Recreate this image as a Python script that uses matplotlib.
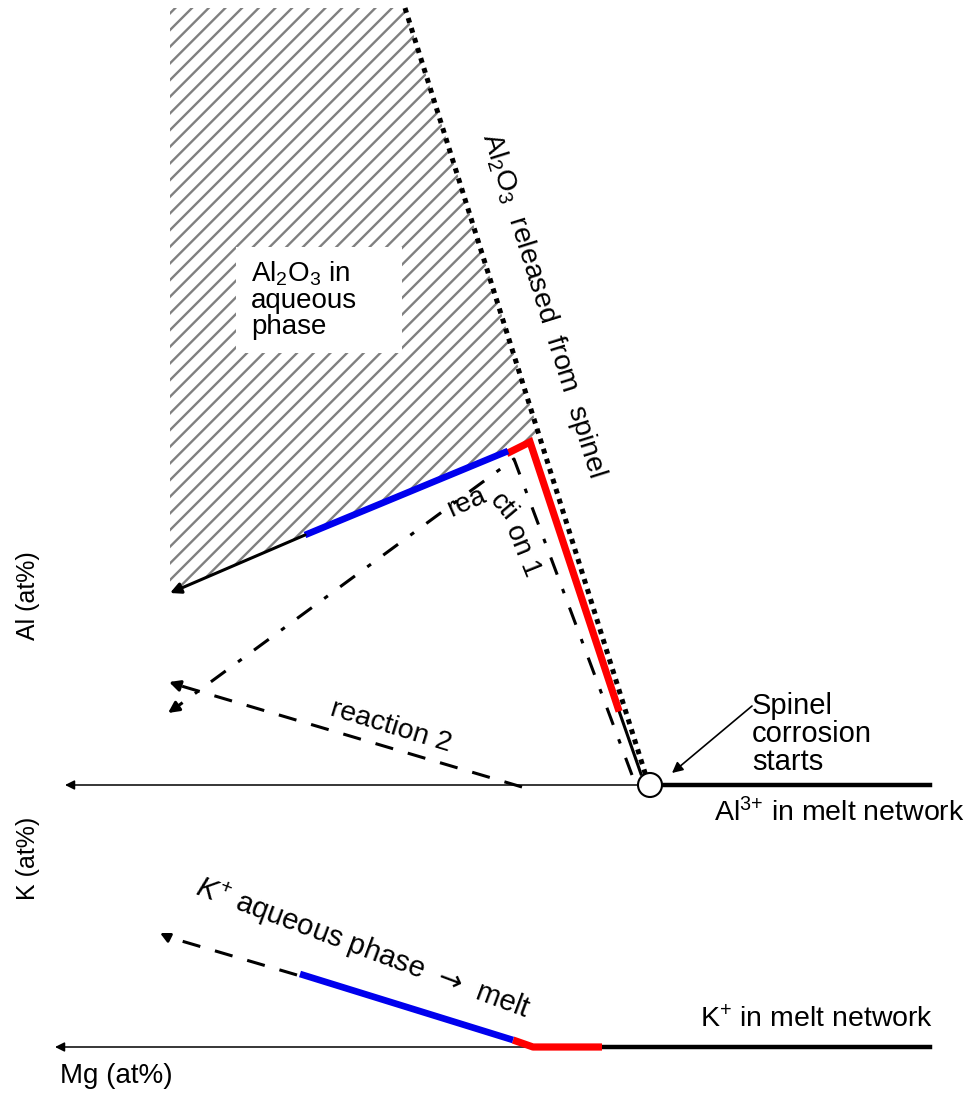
import matplotlib
matplotlib.use("Agg")
import matplotlib.pyplot as plt
from matplotlib.patches import Polygon, Circle, Rectangle

plt.rcParams['font.family'] = ['Liberation Sans', 'DejaVu Sans']
plt.rcParams['mathtext.fontset'] = 'custom'
plt.rcParams['mathtext.rm'] = 'Liberation Sans'
plt.rcParams['mathtext.it'] = 'Liberation Sans:italic'
plt.rcParams['mathtext.sf'] = 'DejaVu Sans'
plt.rcParams['mathtext.default'] = 'regular'
plt.rcParams['hatch.linewidth'] = 1.7

# ---- schematic data (image units: x to the right, y downward) ----
hatch_x = [170, 405, 538, 530, 508, 305, 170]
hatch_y = [8, 8, 430, 442, 450, 535, 592]

spinel_dot_x = [405, 646]
spinel_dot_y = [8, 776]

al_red_x = [510, 530, 618]
al_red_y = [452, 442, 708]
al_black_tail_x = [618, 641]
al_black_tail_y = [708, 774]
al_blue_x = [305, 508]
al_blue_y = [535, 451]
al_arrow_from = (305, 535)
al_arrow_to = (170, 593)

reaction1_x = [632, 514, 178]
reaction1_y = [775, 459, 706]
reaction1_tip = (168, 713)
reaction2_x = [522, 178]
reaction2_y = [787, 685]
reaction2_tip = (169, 682)

al_axis_y = 785
al_axis_x = [930, 65]
al_axis_thick_x = [660, 930]
spinel_start = (650, 785)

k_axis_y = 1047
k_axis_x = [930, 55]
k_black_thick_x = [602, 930]
k_red_x = [513, 533, 602]
k_red_y = [1040, 1047, 1047]
k_blue_x = [300, 513]
k_blue_y = [974, 1040]
k_dash_x = [297, 168]
k_dash_y = [975, 937]
k_tip = (160, 933)

W, H = 970, 1093
fig = plt.figure(figsize=(W / 100, H / 100), dpi=100)
ax = fig.add_axes([0, 0, 1, 1])
ax.set_xlim(0, W)
ax.set_ylim(H, 0)
ax.axis('off')

# hatched region
ax.add_patch(Polygon(list(zip(hatch_x, hatch_y)), closed=True, facecolor='white',
                     edgecolor='#808080', linewidth=0, hatch='//', zorder=1))
# white text box
ax.add_patch(Rectangle((236, 247), 166, 106, facecolor='white', edgecolor='none', zorder=2))
ax.text(251, 259, 'Al$_2$O$_3$ in\naqueous\nphase', fontsize=20, ha='left', va='top',
        linespacing=1.0, zorder=3)

# dotted spinel line
ax.plot(spinel_dot_x, spinel_dot_y, color='black', lw=3.6, linestyle=(0, (1, 1.1)),
        dash_capstyle='butt', zorder=4)

# reaction lines
ax.plot(reaction1_x, reaction1_y, color='black', lw=2.2,
        linestyle=(0, (6, 5, 1.5, 5)), zorder=3)
ax.annotate('', xy=reaction1_tip, xytext=(reaction1_x[-1], reaction1_y[-1]),
            arrowprops=dict(arrowstyle='-|>', color='black', lw=2.2, mutation_scale=16,
                            shrinkA=0, shrinkB=0), zorder=3)
ax.plot(reaction2_x, reaction2_y, color='black', lw=2.2,
        linestyle=(0, (6, 5)), zorder=3)
ax.annotate('', xy=reaction2_tip, xytext=(reaction2_x[-1], reaction2_y[-1]),
            arrowprops=dict(arrowstyle='-|>', color='black', lw=2.2, mutation_scale=16,
                            shrinkA=0, shrinkB=0), zorder=3)

# Al path
ax.plot(al_black_tail_x, al_black_tail_y, color='black', lw=2.2, zorder=5)
ax.plot(al_red_x, al_red_y, color='#ff0000', lw=5.2, solid_joinstyle='miter', zorder=5)
ax.plot(al_blue_x, al_blue_y, color='#0000ee', lw=4.8, solid_capstyle='butt', zorder=5)
ax.annotate('', xy=al_arrow_to, xytext=al_arrow_from,
            arrowprops=dict(arrowstyle='-|>', color='black', lw=2.2, mutation_scale=16,
                            shrinkA=0, shrinkB=0), zorder=5)

# Al axis
ax.annotate('', xy=(al_axis_x[1], al_axis_y), xytext=(al_axis_x[0], al_axis_y),
            arrowprops=dict(arrowstyle='-|>', color='black', lw=1.1, mutation_scale=14,
                            shrinkA=0, shrinkB=0), zorder=4)
ax.plot(al_axis_thick_x, [al_axis_y, al_axis_y], color='black', lw=3.2, zorder=4)
ax.add_patch(Circle(spinel_start, 12, facecolor='white', edgecolor='black', lw=1.5, zorder=6))

# Spinel corrosion annotation
ax.text(752, 692, 'Spinel\ncorrosion\nstarts', fontsize=21, ha='left', va='top', linespacing=1.0)
ax.annotate('', xy=(672, 773), xytext=(752, 706),
            arrowprops=dict(arrowstyle='-|>', color='black', lw=1.2, mutation_scale=16,
                            shrinkA=0, shrinkB=0))
ax.text(714, 813, 'Al$^{3{+}}$ in melt network', fontsize=20.5, ha='left', va='center')

# rotated labels
ax.text(543, 305, 'Al$_2$O$_3$  released  from  spinel', fontsize=20.5, rotation=-72.6,
        rotation_mode='anchor', ha='center', va='center')
ax.text(467, 502, 'rea', fontsize=20, rotation=24, rotation_mode='anchor', ha='center', va='center')
ax.text(503, 507, 'cti', fontsize=20, rotation=-50, rotation_mode='anchor', ha='center', va='center')
ax.text(523, 550, 'on 1', fontsize=20, rotation=-68, rotation_mode='anchor', ha='center', va='center')
ax.text(391, 727, 'reaction 2', fontsize=20.5, rotation=-17, rotation_mode='anchor',
        ha='center', va='center')

# axis labels
ax.text(28, 596, 'Al (at%)', fontsize=18, rotation=90, ha='center', va='center')
ax.text(28, 858, 'K (at%)', fontsize=18, rotation=90, ha='center', va='center')
ax.text(60, 1076, 'Mg (at%)', fontsize=20, ha='left', va='center')

# K axis
ax.annotate('', xy=(k_axis_x[1], k_axis_y), xytext=(k_axis_x[0], k_axis_y),
            arrowprops=dict(arrowstyle='-|>', color='black', lw=1.1, mutation_scale=14,
                            shrinkA=0, shrinkB=0), zorder=4)
ax.plot(k_black_thick_x, [k_axis_y, k_axis_y], color='black', lw=3.2, zorder=4)
ax.plot(k_red_x, k_red_y, color='#ff0000', lw=5.2, solid_capstyle='butt', zorder=5)
ax.plot(k_blue_x, k_blue_y, color='#0000ee', lw=4.8, solid_capstyle='butt', zorder=5)
ax.plot(k_dash_x, k_dash_y, color='black', lw=2.2, linestyle=(0, (6, 5)), zorder=5)
ax.annotate('', xy=k_tip, xytext=(k_dash_x[-1], k_dash_y[-1]),
            arrowprops=dict(arrowstyle='-|>', color='black', lw=2.0, mutation_scale=14,
                            shrinkA=0, shrinkB=0), zorder=5)
ax.text(363, 948, '$\\mathit{K}^{{+}}$ aqueous phase  $\\mathsf{\u2192}$  melt', fontsize=21,
        rotation=-20.5, rotation_mode='anchor', ha='center', va='center')
ax.text(700, 1020, 'K$^{{+}}$ in melt network', fontsize=20.5, ha='left', va='center')

fig.savefig('out.png', dpi=100)
